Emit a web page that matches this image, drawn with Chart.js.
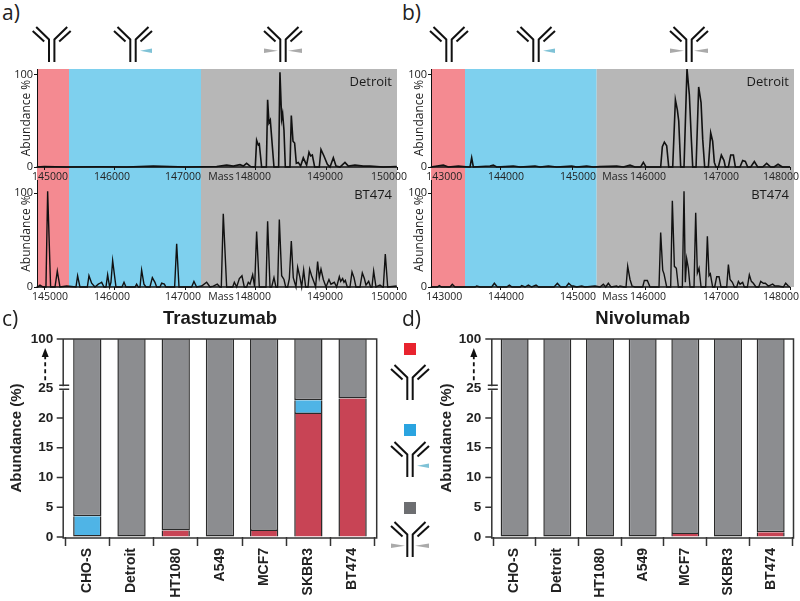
<!DOCTYPE html>
<html>
<head>
<meta charset="utf-8">
<script src="https://cdn.jsdelivr.net/npm/chart.js@4/dist/chart.umd.min.js"></script>
<style>
  html, body { margin: 0; padding: 0; background: #fff; }
  #page { position: relative; width: 800px; height: 601px; overflow: hidden; }
  canvas { position: absolute; }
  svg { position: absolute; left: 0; top: 0; }
  .panel { position: absolute; font: 21px "Open Sans", sans-serif; color: #222; line-height: 24px; }
</style>
</head>
<body>
<div id="page">
  <svg width="800" height="601">
    <defs>
      <g id="ab" fill="none" stroke="#111" stroke-width="2">
        <polyline points="-15.5,0 -2.7,12.5 -2.7,35"/>
        <polyline points="15.5,0 2.7,12.5 2.7,35"/>
        <line x1="-19" y1="4" x2="-7.5" y2="14.5"/>
        <line x1="19" y1="4" x2="7.5" y2="14.5"/>
      </g>
      <polygon id="wedgeBlue" points="7,23.7 19,21.4 19,26" fill="#7fc2d6"/>
      <polygon id="wedgeL" points="-5,23.7 -19,21.4 -19,26" fill="#aaaaaa"/>
      <polygon id="wedgeR" points="5,23.7 19,21.4 19,26" fill="#aaaaaa"/>
    </defs>
    <use href="#ab" x="51.7" y="27"/>
    <use href="#ab" x="133" y="27"/>
    <use href="#wedgeBlue" x="133" y="27"/>
    <use href="#ab" x="283" y="27"/>
    <use href="#wedgeL" x="283" y="27"/>
    <use href="#wedgeR" x="283" y="27"/>
    <use href="#ab" x="449" y="27"/>
    <use href="#ab" x="536" y="27"/>
    <use href="#wedgeBlue" x="536" y="27"/>
    <use href="#ab" x="689" y="27"/>
    <use href="#wedgeL" x="689" y="27"/>
    <use href="#wedgeR" x="689" y="27"/>
    <rect x="404" y="343" width="12" height="12" fill="#e8232e"/>
    <use href="#ab" x="410" y="365"/>
    <rect x="404" y="424" width="12" height="12" fill="#2aa4e0"/>
    <use href="#ab" x="410" y="442"/>
    <use href="#wedgeBlue" x="410" y="442"/>
    <rect x="404" y="502" width="12" height="12" fill="#6d6e71"/>
    <use href="#ab" x="410" y="522"/>
    <use href="#wedgeL" x="410" y="522"/>
    <use href="#wedgeR" x="410" y="522"/>
  </svg>

  <canvas id="specBT474A" style="left:0;top:180px" width="412" height="125"></canvas>
  <canvas id="specDetroitA" style="left:0;top:69px" width="412" height="121"></canvas>
  <canvas id="specBT474B" style="left:395px;top:180px" width="405" height="125"></canvas>
  <canvas id="specDetroitB" style="left:395px;top:69px" width="405" height="121"></canvas>
  <canvas id="barsTrastuzumab" style="left:0;top:306px" width="380" height="294"></canvas>
  <canvas id="barsNivolumab" style="left:425px;top:306px" width="375" height="294"></canvas>

  <div class="panel" style="left:2px;top:0">a)</div>
  <div class="panel" style="left:402px;top:0">b)</div>
  <div class="panel" style="left:2px;top:306px">c)</div>
  <div class="panel" style="left:402px;top:306px">d)</div>
</div>

<script>
// Espectros panel a (Trastuzumab)
const massA_Detroit = [144889,144998,145314,145787,146165,146544,147016,147442,147584,147678,147773,147820,147867,147924,147990,148009,148033,148047,148080,148147,148165,148184,148203,148255,148321,148340,148364,148378,148397,148416,148482,148501,148525,148548,148572,148600,148633,148671,148718,148752,148775,148799,148832,148898,148922,148964,149012,149050,149097,149135,149191,149262,149310,149404,149522,149617,149806,149995];
const abundA_Detroit = [0,0.5,0,0.3,0,1,0,0.5,2,1,2.5,1,4,0.5,0,29,24,25,0,0,73,48,51,0,0,103,52,58,40,0,0,56,28,26,4,5,1,10,2,16,12,13,0,0,19,12,3,0,10,1,0,5,1,2,1,1,0,0.5];
const massA_BT474 = [144889,144913,144936,144983,145021,145045,145087,145149,145182,145220,145314,145447,145470,145503,145608,145631,145669,145716,145764,145787,145811,145844,145872,145896,145924,145943,145967,146014,146099,146128,146156,146284,146307,146331,146355,146378,146411,146440,146496,146530,146567,146591,146638,146662,146700,146723,146846,146875,146908,147087,147120,147158,147229,147300,147348,147395,147451,147489,147508,147536,147584,147669,147693,147726,147764,147801,147834,147867,147891,147915,147953,147981,148009,148047,148142,148165,148199,148222,148255,148283,148307,148331,148364,148397,148421,148449,148473,148501,148529,148567,148591,148624,148648,148676,148704,148738,148761,148789,148823,148846,148874,148898,148922,148955,148993,149035,149063,149111,149144,149182,149201,149229,149248,149267,149295,149333,149362,149390,149418,149475,149508,149537,149560,149598,149626,149645,149669,149702,149759,149797,149806,149834,149868,149995];
const abundA_BT474 = [0,0.5,2,0,0,102,0,0,17,0,1,0,12,0,0,12,4,0,3,4,5,0,0,13,0,5,28,0,0,5,0,0,3,0,0,18,3,0,0,10,5,0,0,4,3,0,0,46,0,0,6,0,1,5,0,1,3,0,0,78,0,0,5,0,9,12,0,0,5,3,13,0,59,0,0,70,0,0,10,0,0,72,12,8,0,0,9,49,10,0,21,10,0,18,0,0,19,12,5,0,27,10,19,8,0,8,3,5,0,11,6,9,5,7,0,0,16,10,0,0,15,9,2,6,0,0,17,0,2,0,0,35,0,1];

// Espectros panel b (Nivolumab)
const massB_Detroit = [143044,143218,143287,143425,143563,143586,143609,143632,143862,143908,143954,144184,144276,144483,144552,144667,144782,144989,145058,145195,145287,145379,145609,145701,145793,145862,145940,145977,146014,146216,146239,146267,146299,146327,146382,146419,146446,146465,146492,146538,146579,146612,146639,146658,146704,146740,146773,146796,146823,146874,146906,146933,146956,146979,147012,147053,147090,147108,147150,147182,147219,147246,147310,147347,147384,147416,147458,147508,147554,147623,147678,147734,147780,147835,147895,148000];
const abundB_Detroit = [0,2,0,1,0,0,10,0,1,2,0,1,0,1,0,1,0,1,0,1,0,0.5,1,0,2,0,0,5,0,0,22,27,23,0,0,73,62,50,0,0,107,78,30,0,0,87,70,30,0,0,37,28,5,0,0,13,7,0,0,13,13,0,0,7,6,0,0,6,0,0,4,0,0,3,0,0];
const massB_BT474 = [143044,143135,143163,143195,143310,143342,143379,143655,143678,143724,143885,143922,143963,144092,144129,144166,144276,144299,144345,144391,144437,144497,144533,144745,144791,144837,144910,144947,144989,145012,145058,145127,145173,145310,145379,145425,145458,145494,145531,145609,145632,145655,145710,145738,145761,145793,145821,145862,145968,145991,146032,146069,146193,146216,146244,146262,146299,146354,146377,146405,146432,146460,146515,146538,146556,146575,146598,146621,146676,146699,146722,146745,146773,146837,146860,146883,146901,146933,146961,146989,147021,147048,147127,147150,147173,147205,147233,147265,147288,147311,147347,147370,147412,147439,147467,147494,147531,147568,147596,147632,147660,147701,147761,147793,147839,147908,147940,147977,148000];
const abundB_BT474 = [0,0,1.5,0,0,3,0,0,1,0,0,4,0,0,2,0,0,1.5,0,2,0,2,0,0,4,0,0,4,1,1,0,1,0,1,0,3,0,4,0,1,0,1,0,0,22,8,1,0,0,7,7,0,0,58,18,14,0,0,92,22,20,0,0,102,5,30,20,0,0,79,15,20,0,0,54,12,14,0,0,11,11,0,0,24,8,5,0,0,6,3,5,0,0,13,6,4,0,0,6,4,4,1,3,1,1,0,4,1,0];

const massTicksA = [145000,146000,147000,148000,149000,150000];
const massTicksB = [143000,144000,145000,146000,147000,148000];
const spectrumTicks = [0,100];
const regionsA = [145348,147220];
const regionsB = [143517,145333];

// Barras panel c y d
const lineasCelulares = ['CHO-S','Detroit','HT1080','A549','MCF7','SKBR3','BT474'];
const abundTicks = [0,5,10,15,20,25,100];
const trastRojo = [null,null,1.1,null,1.0,20.7,23.3];
const trastAzul = [3.5,null,null,null,null,2.3,null];
const trastGris = [96.5,100,98.9,100,99,77,76.7];
const nivoRojo = [null,null,null,null,0.5,null,0.8];
const nivoAzul = [null,null,null,null,null,null,null];
const nivoGris = [100,100,100,100,99.5,100,99.2];

const SPEC_FONT = '"Open Sans", sans-serif';
const BAR_FONT = '"Liberation Sans", Arial, sans-serif';

// Eje con corte: 0-25 lineal y luego salto hasta 100
const LinearBase = Chart.registry.getScale('linear');
class BrokenScale extends LinearBase {
    getPixelForValue(value) {
        if (value === null || value === undefined) return NaN;
        const frac = 0.751;
        const dec = value <= 25 ? value / 25 * frac : frac + (value - 25) / 75 * (1 - frac);
        return this.getPixelForDecimal(dec);
    }
}
BrokenScale.id = 'brokenLinear';
BrokenScale.defaults = {};
Chart.register(BrokenScale);

function spectrumPlugin(cfg) {
    return {
        id: 'spectrum',
        beforeDraw(chart) {
            const { ctx, chartArea: area, scales: { x } } = chart;
            const a = x.getPixelForValue(cfg.regions[0]);
            const b = x.getPixelForValue(cfg.regions[1]);
            const h = area.bottom - area.top + cfg.shadeExtra;
            ctx.save();
            ctx.fillStyle = '#f48a91';
            ctx.fillRect(area.left, area.top, a - area.left, h);
            ctx.fillStyle = '#7ed0ee';
            ctx.fillRect(a, area.top, b - a, h);
            ctx.fillStyle = '#b7b7b7';
            ctx.fillRect(b, area.top, area.right - b, h);
            ctx.restore();
        },
        afterDraw(chart) {
            const { ctx, chartArea: area, scales: { x } } = chart;
            const tx = area.bottom + 10;
            ctx.save();
            // linea del eje
            ctx.strokeStyle = '#111';
            ctx.lineWidth = 1.5;
            ctx.beginPath();
            ctx.moveTo(area.left, area.bottom);
            ctx.lineTo(x.getPixelForValue(cfg.axisEnd), area.bottom);
            ctx.stroke();
            ctx.fillStyle = '#222';
            ctx.textBaseline = 'middle';
            ctx.textAlign = 'center';
            ctx.font = '10.5px ' + SPEC_FONT;
            cfg.ticks.forEach((t, i) => {
                ctx.fillText(String(t), x.getPixelForValue(t) + cfg.labelOffsets[i], tx);
            });
            ctx.fillText('Mass', x.getPixelForValue(cfg.massAt) + cfg.massOffset, tx);
            ctx.textAlign = 'right';
            ctx.font = '13px ' + SPEC_FONT;
            ctx.fillStyle = '#1a1a1a';
            ctx.fillText(cfg.name, area.left + cfg.nameX, area.top + cfg.nameY);
            ctx.restore();
        }
    };
}

function crearEspectro(id, masas, valores, cfg) {
    new Chart(document.getElementById(id), {
        type: 'scatter',
        data: {
            datasets: [{
                data: masas.map((m, i) => ({ x: m, y: valores[i] })),
                showLine: true,
                borderColor: '#111',
                borderWidth: cfg.lineWidth,
                pointRadius: 0,
                tension: 0,
                clip: false
            }]
        },
        options: {
            responsive: false,
            animation: false,
            layout: { autoPadding: false, padding: { right: cfg.padRight } },
            plugins: { legend: { display: false }, tooltip: { enabled: false } },
            scales: {
                x: {
                    type: 'linear',
                    min: cfg.xMin,
                    max: cfg.xMax,
                    border: { display: false },
                    grid: { drawOnChartArea: false, tickLength: 3, tickColor: '#111' },
                    ticks: { display: false },
                    afterBuildTicks: (s) => { s.ticks = cfg.ticks.filter(t => t >= cfg.xMin).map(v => ({ value: v })); },
                    afterFit: (s) => { s.height = cfg.axisHeight; s.paddingLeft = 0; s.paddingRight = 0; }
                },
                y: {
                    min: 0,
                    max: cfg.yMax,
                    border: { color: '#111', width: 1 },
                    grid: { drawOnChartArea: false, tickLength: 3, tickColor: '#111' },
                    ticks: { color: '#222', padding: 1, font: { family: SPEC_FONT, size: 11 } },
                    afterBuildTicks: (s) => { s.ticks = spectrumTicks.map(v => ({ value: v })); },
                    afterFit: (s) => { s.width = cfg.axisWidth; s.paddingTop = 0; s.paddingBottom = 0; },
                    title: {
                        display: true,
                        text: 'Abundance %',
                        color: '#222',
                        font: { family: SPEC_FONT, size: 12 },
                        padding: { top: cfg.titlePad, bottom: 0 }
                    }
                }
            }
        },
        plugins: [spectrumPlugin(cfg)]
    });
}

const comunA = {
    xMin: 144894, xMax: 150000, regions: regionsA, ticks: massTicksA, axisEnd: 150000,
    labelOffsets: [5.5, -3, -2.5, -3, -1.5, -8], massAt: 148000, massOffset: -35,
    axisWidth: 37, padRight: 15, titlePad: 19.8, nameX: 355
};
const comunB = {
    xMin: 143048, xMax: 148055, regions: regionsB, ticks: massTicksB, axisEnd: 148000,
    labelOffsets: [16.7, 6, 5.5, 3, 3.5, -9], massAt: 146000, massOffset: -30,
    axisWidth: 36, padRight: 6, titlePad: 17.8, nameX: 358
};
const arriba = { yMax: 106.5, axisHeight: 23, shadeExtra: 13, name: 'Detroit', nameY: 13, lineWidth: 1.6 };
const abajo = { yMax: 114, axisHeight: 18, shadeExtra: 0, name: 'BT474', nameY: 15, lineWidth: 1.4 };

crearEspectro('specDetroitA', massA_Detroit, abundA_Detroit, { ...comunA, ...arriba });
crearEspectro('specBT474A', massA_BT474, abundA_BT474, { ...comunA, ...abajo });
crearEspectro('specDetroitB', massB_Detroit, abundB_Detroit, { ...comunB, ...arriba });
crearEspectro('specBT474B', massB_BT474, abundB_BT474, { ...comunB, ...abajo });

const marcoPlugin = {
    id: 'marco',
    afterDraw(chart) {
        const { ctx, chartArea: area, scales: { y } } = chart;
        const left = area.left - chart.options.frameInset;
        const right = area.right + chart.options.frameInset;
        const y25 = y.getPixelForValue(25);
        ctx.save();
        ctx.strokeStyle = '#333';
        ctx.lineWidth = 1.5;
        ctx.beginPath();
        ctx.moveTo(left, y25 + 2);
        ctx.lineTo(left, area.bottom + 1);
        ctx.lineTo(right, area.bottom + 1);
        ctx.lineTo(right, area.top);
        ctx.lineTo(left - 6.5, area.top);
        ctx.moveTo(left, area.top);
        ctx.lineTo(left, y25 - 2);
        // ticks del eje y
        abundTicks.forEach((t) => {
            if (t === 100 || t === 25) return;
            const p = y.getPixelForValue(t);
            ctx.moveTo(left - 6.5, p);
            ctx.lineTo(left, p);
        });
        // marca del corte
        ctx.moveTo(left - 4, y25 - 3);
        ctx.lineTo(left + 6, y25 - 3);
        ctx.moveTo(left - 4, y25 + 1);
        ctx.lineTo(left + 6, y25 + 1);
        ctx.stroke();
        // flecha punteada
        const ax = left - 18;
        ctx.strokeStyle = '#111';
        ctx.lineWidth = 1.8;
        ctx.setLineDash([4, 3]);
        ctx.beginPath();
        ctx.moveTo(ax, y25 - 8);
        ctx.lineTo(ax, area.top + 16);
        ctx.stroke();
        ctx.setLineDash([]);
        ctx.fillStyle = '#111';
        ctx.beginPath();
        ctx.moveTo(ax, area.top + 9);
        ctx.lineTo(ax - 3.5, area.top + 18);
        ctx.lineTo(ax + 3.5, area.top + 18);
        ctx.closePath();
        ctx.fill();
        ctx.restore();
    }
};

// Solo el borde inferior de cada tramo separa los colores; asi los tramos muy finos siguen viendose rojos
function serieBarra(valores, color, bordeInferior) {
    return {
        data: valores,
        backgroundColor: color,
        borderColor: '#2a2a2a',
        borderWidth: { top: 0, left: 1.5, right: 1.5, bottom: bordeInferior },
        borderSkipped: false,
        stack: 'a'
    };
}

function crearBarras(id, titulo, rojo, azul, gris, cfg) {
    new Chart(document.getElementById(id), {
        type: 'bar',
        data: {
            labels: lineasCelulares,
            datasets: [serieBarra(rojo, '#c84455', 0), serieBarra(azul, '#4fb4e6', 1.5), serieBarra(gris, '#8c8d90', 1.5)]
        },
        options: {
            responsive: false,
            animation: false,
            frameInset: cfg.frameInset,
            barPercentage: cfg.barPct,
            categoryPercentage: 1,
            layout: { autoPadding: false, padding: { right: cfg.padRight } },
            plugins: {
                legend: { display: false },
                tooltip: { enabled: false },
                title: {
                    display: true,
                    text: titulo,
                    fullSize: false,
                    color: '#1a1a1a',
                    font: { family: BAR_FONT, size: 18.5, weight: 'bold', lineHeight: 1.2 },
                    padding: { top: 2, bottom: 8.8 }
                }
            },
            scales: {
                x: {
                    stacked: true,
                    border: { display: false },
                    grid: { drawOnChartArea: false, tickLength: 9, tickColor: '#333', tickWidth: 1.5 },
                    ticks: { color: '#222', padding: 2, maxRotation: 90, minRotation: 90, autoSkip: false, font: { family: BAR_FONT, size: 14, weight: 'bold' } },
                    afterFit: (s) => { s.height = 63; }
                },
                y: {
                    type: 'brokenLinear',
                    stacked: true,
                    min: 0,
                    max: 100,
                    border: { display: false },
                    grid: { drawOnChartArea: false, drawTicks: false },
                    ticks: { color: '#222', padding: 12, autoSkip: false, font: { family: BAR_FONT, size: 13.5, weight: 'bold' } },
                    afterBuildTicks: (s) => { s.ticks = abundTicks.map(v => ({ value: v })); },
                    afterFit: (s) => { s.width = cfg.axisWidth; },
                    title: {
                        display: true,
                        text: 'Abundance (%)',
                        color: '#222',
                        font: { family: BAR_FONT, size: 15, weight: 'bold' },
                        padding: { top: cfg.titlePad, bottom: 0 }
                    }
                }
            }
        },
        plugins: [marcoPlugin]
    });
}

crearBarras('barsTrastuzumab', 'Trastuzumab', trastRojo, trastAzul, trastGris,
    { axisWidth: 65.2, padRight: 5.3, titlePad: 8.3, barPct: 0.64, frameInset: 2 });
crearBarras('barsNivolumab', 'Nivolumab', nivoRojo, nivoAzul, nivoGris,
    { axisWidth: 68.3, padRight: 8, titlePad: 12.7, barPct: 0.656, frameInset: 1.5 });
</script>
</body>
</html>
